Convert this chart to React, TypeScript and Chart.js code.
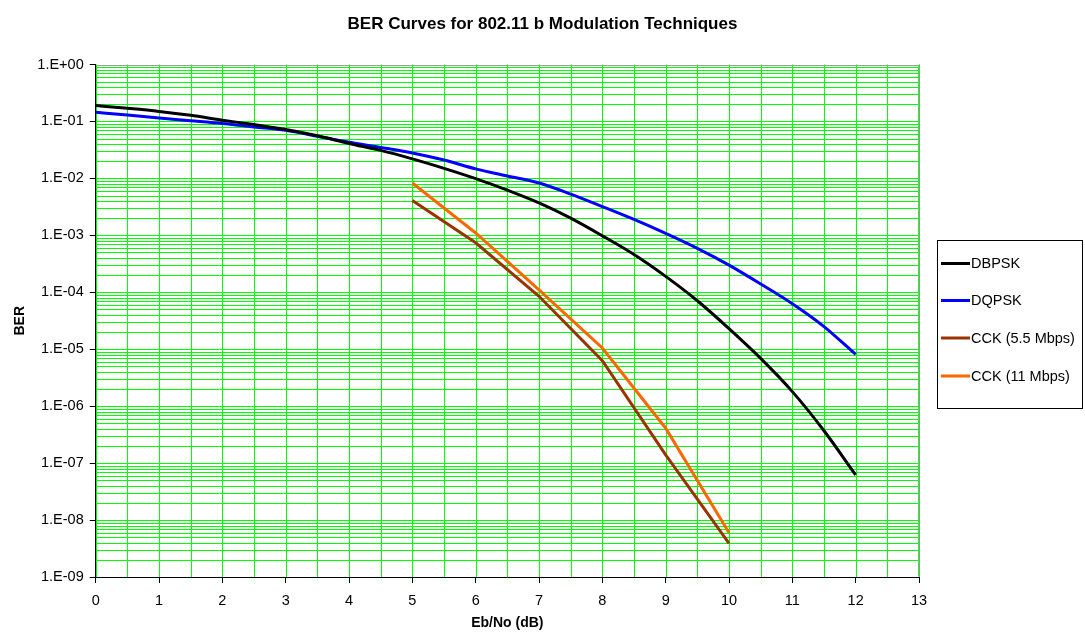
import React, { useEffect, useRef } from "react";
import { Chart, registerables } from "chart.js";

Chart.register(...registerables);

const FONT = "'Liberation Sans', Arial, sans-serif";

const TITLE = "BER Curves for 802.11 b Modulation Techniques";
const X_TITLE = "Eb/No (dB)";
const Y_TITLE = "BER";

const SERIES_NAMES = ["DBPSK", "DQPSK", "CCK (5.5 Mbps)", "CCK (11 Mbps)"];
const SERIES_COLORS = ["#000000", "#0000ff", "#993300", "#ff6600"];

const X_PSK = [0, 0.5, 1, 1.5, 2, 2.5, 3, 3.5, 4, 4.5, 5, 5.5, 6, 6.5, 7, 7.5, 8, 8.5, 9, 9.5, 10, 10.5, 11, 11.5, 12];
const DBPSK = [0.19, 0.17, 0.15, 0.128, 0.105, 0.088, 0.072, 0.056, 0.041, 0.031, 0.022, 0.015, 0.0099, 0.0062, 0.0037, 0.002, 0.00098, 0.00046, 0.00019, 0.000071, 0.000023, 0.0000069, 0.0000018, 0.00000037, 0.000000062];
const DQPSK = [0.145, 0.13, 0.115, 0.103, 0.092, 0.08, 0.07, 0.055, 0.043, 0.035, 0.028, 0.021, 0.0147, 0.011, 0.0083, 0.0053, 0.0032, 0.0019, 0.00108, 0.00059, 0.0003, 0.00014, 0.000063, 0.000025, 0.0000081];

const X_CCK = [5, 6, 7, 8, 9, 10];
const CCK_55 = [0.0041, 0.00074, 0.000085, 0.0000063, 0.00000014, 0.0000000039];
const CCK_11 = [0.0083, 0.0011, 0.00011, 0.0000105, 0.00000041, 0.000000006];

const X_MIN = 0;
const X_MAX = 13;
const X_GRID_STEP = 0.5;
const Y_MIN_EXP = -9;
const Y_MAX_EXP = 0;

function pts(xs: number[], ys: number[]) {
  return xs.map((x, i) => ({ x, y: ys[i] }));
}

function isMajor(v: number) {
  const e = Math.round(Math.log10(v));
  return Math.abs(v / Math.pow(10, e) - 1) < 1e-6;
}

function isInt(v: number) {
  return Math.abs(v - Math.round(v)) < 1e-9;
}

function fmtExp(v: number) {
  const e = Math.round(Math.log10(v));
  const s = String(Math.abs(e)).padStart(2, "0");
  return "1.E" + (e >= 0 ? "+" : "-") + s;
}

const gridPlugin = {
  id: "greenGrid",
  beforeDatasetsDraw(chart: any) {
    const { ctx, chartArea, scales } = chart;
    const a = chartArea;
    ctx.save();
    ctx.strokeStyle = "#00ff00";
    ctx.lineWidth = 1;
    ctx.beginPath();
    scales.x.ticks.forEach((t: any) => {
      const px = Math.round(scales.x.getPixelForValue(t.value)) + 0.5;
      ctx.moveTo(px, a.top);
      ctx.lineTo(px, a.bottom);
    });
    scales.y.ticks.forEach((t: any) => {
      const py = Math.round(scales.y.getPixelForValue(t.value)) + 0.5;
      ctx.moveTo(a.left, py);
      ctx.lineTo(a.right, py);
    });
    ctx.stroke();
    ctx.restore();
  },
  afterDraw(chart: any) {
    const { ctx, chartArea } = chart;
    ctx.save();
    // gray top/right frame
    ctx.strokeStyle = "#a0a0a0";
    ctx.lineWidth = 1;
    ctx.beginPath();
    const l = Math.round(chartArea.left) + 0.5;
    const t = Math.round(chartArea.top) + 0.5;
    const r = Math.round(chartArea.right) - 0.5;
    const b = Math.round(chartArea.bottom) - 0.5;
    ctx.moveTo(l, t);
    ctx.lineTo(r, t);
    ctx.lineTo(r, b);
    ctx.stroke();

    // legend box
    const bx = 937.5, by = 240.5, bw = 145, bh = 168;
    ctx.fillStyle = "#ffffff";
    ctx.fillRect(bx, by, bw, bh);
    ctx.strokeStyle = "#000000";
    ctx.strokeRect(bx, by, bw, bh);
    const rowY = [263.5, 300.5, 338, 376];
    ctx.font = "14.5px " + FONT;
    ctx.textBaseline = "middle";
    ctx.textAlign = "left";
    chart.data.datasets.forEach((ds: any, i: number) => {
      const y = rowY[i];
      ctx.strokeStyle = ds.borderColor;
      ctx.lineWidth = 3;
      ctx.beginPath();
      ctx.moveTo(941, y);
      ctx.lineTo(970, y);
      ctx.stroke();
      ctx.fillStyle = "#000000";
      ctx.fillText(ds.label, 971, y + 0.5);
    });
    ctx.restore();
  },
};

export default function App() {
  const ref = useRef<HTMLCanvasElement | null>(null);

  useEffect(() => {
    if (!ref.current) return;
    const yTickValues: number[] = [];
    for (let e = Y_MIN_EXP; e < Y_MAX_EXP; e++) {
      for (let k = 1; k <= 9; k++) yTickValues.push(k * Math.pow(10, e));
    }
    yTickValues.push(Math.pow(10, Y_MAX_EXP));
    const xTickValues: number[] = [];
    for (let v = X_MIN; v <= X_MAX + 1e-9; v += X_GRID_STEP) xTickValues.push(v);

    const chart = new Chart(ref.current, {
      type: "line",
      data: {
        datasets: [
          { label: SERIES_NAMES[0], data: pts(X_PSK, DBPSK), borderColor: SERIES_COLORS[0], cubicInterpolationMode: "monotone" },
          { label: SERIES_NAMES[1], data: pts(X_PSK, DQPSK), borderColor: SERIES_COLORS[1], cubicInterpolationMode: "monotone" },
          { label: SERIES_NAMES[2], data: pts(X_CCK, CCK_55), borderColor: SERIES_COLORS[2] },
          { label: SERIES_NAMES[3], data: pts(X_CCK, CCK_11), borderColor: SERIES_COLORS[3] },
        ] as any,
      },
      options: {
        animation: false,
        responsive: false,
        parsing: false as any,
        elements: {
          line: { borderWidth: 3, fill: false, tension: 0 },
          point: { radius: 0, hoverRadius: 0 },
        },
        layout: { padding: 0 },
        plugins: {
          legend: { display: false },
          tooltip: { enabled: false },
          title: {
            display: true,
            text: TITLE,
            color: "#000000",
            font: { family: FONT, size: 17, weight: "bold", lineHeight: 1.2 },
            padding: { top: 13.8, bottom: 30.3 },
          },
        },
        scales: {
          x: {
            type: "linear",
            min: X_MIN,
            max: X_MAX,
            afterBuildTicks: (scale: any) => {
              scale.ticks = xTickValues.map((value) => ({ value }));
            },
            afterFit: (scale: any) => {
              scale.height = 55;
            },
            ticks: {
              autoSkip: false,
              maxRotation: 0,
              color: "#000000",
              padding: 9,
              font: { family: FONT, size: 14.5 },
              callback: (v: any) => (isInt(Number(v)) ? String(v) : ""),
            },
            grid: {
              drawOnChartArea: false,
              color: "#00ff00",
              tickLength: 6,
              tickColor: (c: any) => (c.tick && isInt(c.tick.value) ? "#000000" : "rgba(0,0,0,0)"),
            },
            border: { color: "#000000", width: 1, z: 1 },
            title: {
              display: true,
              text: X_TITLE,
              color: "#000000",
              font: { family: FONT, size: 14, weight: "bold", lineHeight: 1.2 },
              padding: { top: 2, bottom: 0 },
            },
          },
          y: {
            type: "logarithmic",
            position: "left",
            min: Math.pow(10, Y_MIN_EXP),
            max: Math.pow(10, Y_MAX_EXP),
            afterBuildTicks: (scale: any) => {
              scale.ticks = yTickValues.map((value) => ({ value, major: isMajor(value) }));
            },
            afterFit: (scale: any) => {
              scale.width = 95.7;
            },
            ticks: {
              autoSkip: false,
              color: "#000000",
              padding: 6,
              font: { family: FONT, size: 14.5 },
              callback: (v: any) => (isMajor(Number(v)) ? fmtExp(Number(v)) : ""),
            },
            grid: {
              drawOnChartArea: false,
              color: "#00ff00",
              tickLength: 6,
              tickColor: (c: any) => (c.tick && isMajor(c.tick.value) ? "#000000" : "rgba(0,0,0,0)"),
            },
            border: { color: "#000000", width: 1, z: 1 },
            title: {
              display: true,
              text: Y_TITLE,
              color: "#000000",
              font: { family: FONT, size: 14, weight: "bold", lineHeight: 1.2 },
              padding: { top: 11.6, bottom: 4 },
            },
          },
          legendSpace: {
            type: "linear",
            position: "right",
            min: 0,
            max: 1,
            afterFit: (scale: any) => {
              scale.width = 166;
            },
            ticks: { display: false },
            grid: { display: false, drawOnChartArea: false },
            border: { display: false },
          },
        } as any,
      },
      plugins: [gridPlugin],
    });
    return () => chart.destroy();
  }, []);

  return (
    <div style={{ position: "fixed", left: 0, top: 0, width: 1085, height: 632, background: "#ffffff" }}>
      <canvas ref={ref} width={1085} height={632} style={{ display: "block" }} />
    </div>
  );
}
